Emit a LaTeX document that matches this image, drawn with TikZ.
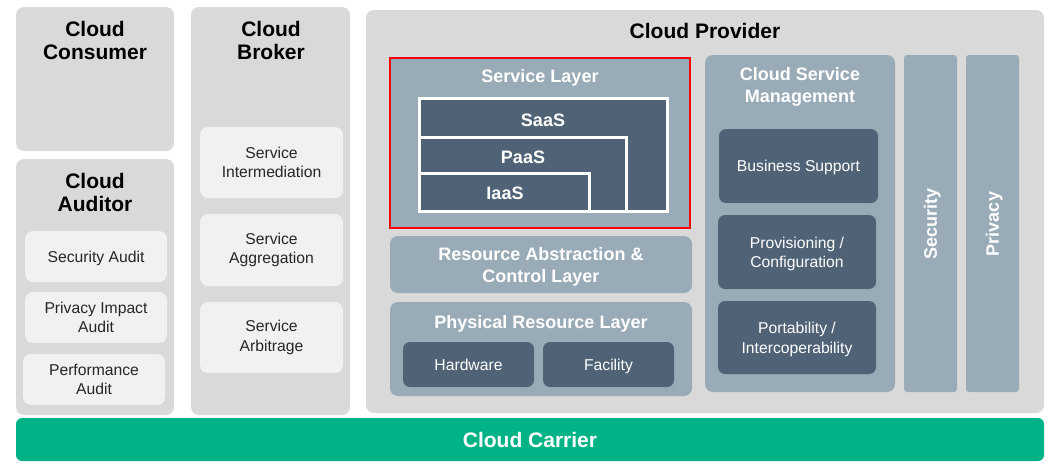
\documentclass[tikz,border=0pt]{standalone}
\usepackage{fontspec}
\setmainfont{Liberation Sans}
\definecolor{panelgray}{HTML}{D9D9DA}
\definecolor{lightbox}{HTML}{F1F1F2}
\definecolor{slate}{HTML}{9AABB8}
\definecolor{darkslate}{HTML}{506376}
\definecolor{carrier}{HTML}{00B386}
\begin{document}
\begin{tikzpicture}[x=1pt, y=-1pt,
    panel/.style={fill=panelgray, rounded corners=8pt},
    title/.style={align=center, text=black, font=\fontsize{21}{23}\selectfont\bfseries},
    head/.style={align=center, text=white, font=\fontsize{18}{22}\selectfont\bfseries},
    oneline/.style={text height=#1, text depth=0pt},
    lightbox/.style={fill=lightbox, rounded corners=8pt, align=center, text=black!85,
        font=\fontsize{15.7}{19.5}\selectfont, inner sep=0pt},
    darkbox/.style={fill=darkslate, rounded corners=7pt, align=center, text=white,
        font=\fontsize{15.7}{19.5}\selectfont, inner sep=0pt}]
    \useasboundingbox[fill=white] (0,0) rectangle (1053,471);
    \fill[panel] (16,7) rectangle (174,151);
    \fill[panel] (16,159) rectangle (174,415);
    \fill[panel] (191,7) rectangle (350,415);
    \fill[panel] (366,10) rectangle (1044,413);
    \node[title] (consumer) at (95,40) {Cloud\\Consumer};
    \node[title] (auditor) at (95,192) {Cloud\\Auditor};
    \node[title] (broker) at (271,40) {Cloud\\Broker};
    \node[title, oneline=15pt] (provider) at (705,31) {Cloud Provider};
    \node[lightbox, oneline=11.2pt, minimum width=142, minimum height=51] (secaudit) at (96,256.5) {Security Audit};
    \node[lightbox, minimum width=142, minimum height=51] (privaudit) at (96,317.5) {Privacy Impact\\Audit};
    \node[lightbox, minimum width=142, minimum height=51] (perfaudit) at (94,379.5) {Performance\\Audit};
    \node[lightbox, minimum width=143, minimum height=71] (intermed) at (271.5,162.5) {Service\\Intermediation};
    \node[lightbox, minimum width=143, minimum height=72] (aggreg) at (271.5,250) {Service\\Aggregation};
    \node[lightbox, minimum width=143, minimum height=71] (arbit) at (271.5,337.5) {Service\\Arbitrage};
    \draw[fill=slate, draw=red, line width=2pt] (390,58) rectangle (690,228);
    \node[head, oneline=12.9pt] (servlayer) at (540,76) {Service Layer};
    \draw[fill=darkslate, draw=white, line width=3pt] (419,98) rectangle (667,211);
    \draw[fill=darkslate, draw=white, line width=3pt] (419,137) rectangle (626,211);
    \draw[fill=darkslate, draw=white, line width=3pt] (419,173) rectangle (589,211);
    \node[head, oneline=12.9pt] (saas) at (543,120) {SaaS};
    \node[head, oneline=12.9pt] (paas) at (523,157) {PaaS};
    \node[head, oneline=12.9pt] (iaas) at (505,193) {IaaS};
    \fill[slate, rounded corners=8pt] (390,236) rectangle (692,293);
    \node[head] (abstraction) at (541,267) {Resource Abstraction \&\\Control Layer};
    \fill[slate, rounded corners=8pt] (390,302) rectangle (692,396);
    \node[head, oneline=12.9pt] (physical) at (541,322) {Physical Resource Layer};
    \node[darkbox, oneline=11.2pt, minimum width=131, minimum height=45] (hardware) at (468.5,364.5) {Hardware};
    \node[darkbox, oneline=11.2pt, minimum width=131, minimum height=45] (facility) at (608.5,364.5) {Facility};
    \fill[slate, rounded corners=8pt] (705,55) rectangle (895,392);
    \node[head] (csm) at (800,86.5) {Cloud Service\\Management};
    \node[darkbox, oneline=11.2pt, minimum width=159, minimum height=74] (business) at (798.5,166) {Business Support};
    \fill[darkslate, rounded corners=7pt] (718,215) rectangle (876,289);
    \fill[darkslate, rounded corners=7pt] (718,301) rectangle (876,374);
    \node[darkbox, fill=none] (provisioning) at (797,254) {Provisioning /\\Configuration};
    \node[darkbox, fill=none] (portability) at (797,339.5) {Portability /\\Intercoperability};
    \fill[slate, rounded corners=3pt] (904,55) rectangle (957,392);
    \fill[slate, rounded corners=3pt] (966,55) rectangle (1019,392);
    \node[head, oneline=12.9pt, rotate=90] (security) at (930.5,224) {Security};
    \node[head, oneline=12.9pt, rotate=90] (privacy) at (992.5,224) {Privacy};
    \fill[carrier, rounded corners=6pt] (16,418) rectangle (1044,461);
    \node[title, oneline=15pt, text=white] (carriertext) at (530,440) {Cloud Carrier};
\end{tikzpicture}
\end{document}
